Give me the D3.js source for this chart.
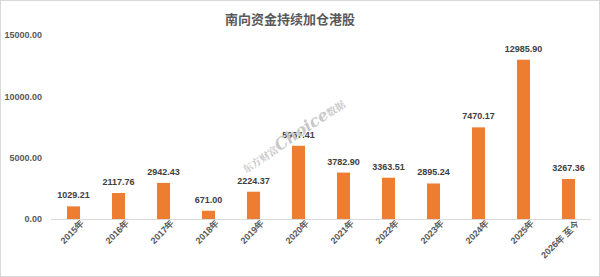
<!DOCTYPE html>
<html>
<head>
<meta charset="utf-8">
<script src="https://cdn.jsdelivr.net/npm/d3@7"></script>
<style>
  body { margin: 0; background: #fff; }
  svg { display: block; font-family: "Noto Sans CJK SC", "Liberation Sans", sans-serif; }
</style>
</head>
<body>
<svg id="chart" width="600" height="277"></svg>
<script>
// Data
const categories = ['2015年', '2016年', '2017年', '2018年', '2019年', '2020年',
    '2021年', '2022年', '2023年', '2024年', '2025年', '2026年 至今'];
const values = [1029.21, 2117.76, 2942.43, 671.00, 2224.37, 5967.41,
    3782.90, 3363.51, 2895.24, 7470.17, 12985.90, 3267.36];
const yTicks = [0, 5000, 10000, 15000];

const svg = d3.select('#chart');
const W = 600, H = 277;
const margin = { top: 35, right: 9, bottom: 58, left: 51 };
const width = W - margin.left - margin.right,
    height = H - margin.top - margin.bottom;

// chart area border
svg.append('rect')
    .attr('x', 0.5).attr('y', 0.5)
    .attr('width', W - 1).attr('height', H - 1)
    .attr('fill', '#fff').attr('stroke', '#d9d9d9');

svg.append('text')
    .attr('x', 290).attr('y', 24)
    .attr('text-anchor', 'middle')
    .attr('font-size', 13).attr('font-weight', 'bold')
    .attr('fill', '#595959')
    .text('南向资金持续加仓港股');

const g = svg.append('g').attr('transform', `translate(${margin.left},${margin.top})`);

const x = d3.scaleBand().domain(categories).range([0, width]).paddingInner(0.71).paddingOuter(0.355);
const y = d3.scaleLinear().domain([0, 15000]).range([height, 0]);

// y axis
const yAxis = d3.axisLeft(y).tickValues(yTicks).tickFormat(d3.format('.2f')).tickSize(0).tickPadding(9);
g.append('g').call(yAxis)
    .call(s => s.select('.domain').remove())
    .selectAll('text')
        .attr('font-size', 9).attr('font-weight', 'bold')
        .attr('fill', '#595959')
        .attr('font-family', '"Liberation Sans", sans-serif');

// watermark
const wm = svg.append('text')
    .attr('transform', 'translate(296,140) rotate(-34)')
    .attr('text-anchor', 'middle')
    .attr('font-weight', 'bold')
    .attr('fill', '#c8c8c8');
wm.append('tspan').attr('font-size', 10).attr('font-family', '"Noto Serif CJK SC", "Noto Sans CJK SC", serif').text('东方财富');
wm.append('tspan').attr('font-size', 16).attr('font-style', 'italic').attr('font-family', '"DejaVu Serif", serif').text('Choice');
wm.append('tspan').attr('font-size', 10).attr('font-family', '"Noto Serif CJK SC", "Noto Sans CJK SC", serif').text('数据');

// bars
g.selectAll('rect.bar')
    .data(values)
    .join('rect')
        .attr('class', 'bar')
        .attr('x', (d, i) => x(categories[i]))
        .attr('y', d => y(d))
        .attr('width', x.bandwidth())
        .attr('height', d => height - y(d))
        .attr('fill', '#ed7d31');

// labels
g.selectAll('text.val')
    .data(values)
    .join('text')
        .attr('class', 'val')
        .attr('x', (d, i) => x(categories[i]) + x.bandwidth() / 2)
        .attr('y', d => y(d) - 8)
        .attr('text-anchor', 'middle')
        .attr('font-size', 9).attr('font-weight', 'bold')
        .attr('fill', '#404040')
        .attr('font-family', '"Liberation Sans", sans-serif')
        .text(d => d.toFixed(2));

// x axis
const xAxis = d3.axisBottom(x).tickSize(0).tickPadding(6);
const xg = g.append('g').attr('transform', `translate(0,${height})`).call(xAxis);
xg.select('.domain').attr('stroke', '#d9d9d9').attr('d', `M0,0.5H${width}`);
xg.selectAll('text')
    .attr('font-size', 9).attr('font-weight', 'bold')
    .attr('fill', '#595959')
    .attr('text-anchor', 'end')
    .attr('dx', '0.5em').attr('dy', '0.6em')
    .attr('transform', 'rotate(-45)');
</script>
</body>
</html>
